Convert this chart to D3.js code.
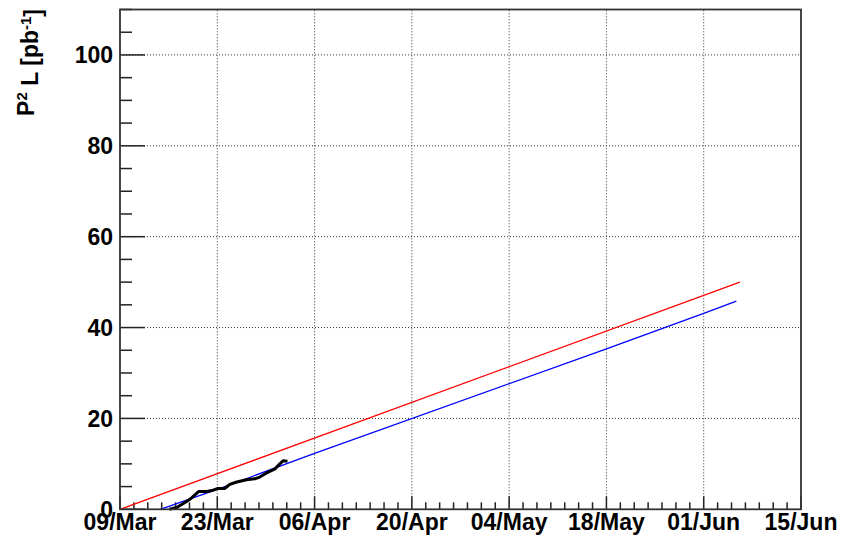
<!DOCTYPE html>
<html>
<head>
<meta charset="utf-8">
<script src="https://cdn.jsdelivr.net/npm/d3@7"></script>
<style>
  body { margin: 0; background: #fff; }
  svg { display: block; }
  text { font-family: "Liberation Sans", Arial, sans-serif; font-weight: bold; fill: #000; }
</style>
</head>
<body>
<div id="chart"><svg></svg></div>
<script>
// days counted from 09/Mar
var startDate = Date.UTC(2010, 2, 9);
var endDate = Date.UTC(2010, 5, 15);

// measured luminosity (black)
var measDays = [7.1, 8.15, 9.35, 10.3, 11.3, 12.5, 13.4, 14.1, 15.1, 15.8, 16.8, 18.2, 19.4, 20.1, 21.1, 22.3, 23.0, 23.5, 24.1];
var measLumi = [0, 0.4, 1.5, 2.5, 3.9, 3.9, 4.2, 4.6, 4.6, 5.5, 6.0, 6.5, 6.7, 7.1, 8.0, 8.9, 10.0, 10.7, 10.6];

// projection (red)
var redDays = [0, 89.2];
var redLumi = [0, 50];

// projection (blue)
var blueDays = [5.8, 14.4, 27.8, 70, 84, 88.7];
var blueLumi = [0, 4.6, 12.2, 35.3, 43.1, 45.8];

var yTicks = [0, 20, 40, 60, 80, 100];
var xTickLabels = ["09/Mar", "23/Mar", "06/Apr", "20/Apr", "04/May", "18/May", "01/Jun", "15/Jun"];

var width = 842, height = 538;
var padLeft = 120, padRight = 801, padTop = 9.5, padBottom = 509.3;

var svg = d3.select("#chart svg").attr("width", width).attr("height", height);

function toDate(d) { return new Date(startDate + d * 864e5); }

var x = d3.scaleUtc().domain([new Date(startDate), new Date(endDate)]).range([padLeft, padRight]);
var y = d3.scaleLinear().domain([0, 110]).range([padBottom, padTop]);

var majorDates = xTickLabels.map(function(d, i) { return toDate(i * 14); });
var minorDates = d3.range(0, 99, 2).map(toDate);
var minorY = d3.range(0, 111, 5);

// grid
var grid = svg.append("g")
    .attr("stroke", "#333")
    .attr("stroke-width", 1)
    .attr("stroke-dasharray", "1,2");
grid.selectAll(".gx")
    .data(majorDates.slice(1, -1))
    .enter().append("line")
        .attr("x1", d => x(d)).attr("x2", d => x(d))
        .attr("y1", padBottom).attr("y2", padTop);
grid.selectAll(".gy")
    .data(yTicks.slice(1))
    .enter().append("line")
        .attr("x1", padLeft).attr("x2", padRight)
        .attr("y1", d => y(d)).attr("y2", d => y(d));

// ticks
var ticks = svg.append("g").attr("stroke", "#222").attr("stroke-width", 1.5);
ticks.selectAll(".xt")
    .data(minorDates)
    .enter().append("line")
        .attr("x1", d => x(d)).attr("x2", d => x(d))
        .attr("y1", padBottom)
        .attr("y2", (d, i) => padBottom - (i % 7 == 0 ? 13 : 7));
ticks.selectAll(".yt")
    .data(minorY)
    .enter().append("line")
        .attr("y1", d => y(d)).attr("y2", d => y(d))
        .attr("x1", padLeft)
        .attr("x2", d => padLeft + (d % 20 == 0 ? 25 : 12));

// series
var line = d3.line()
    .x(d => x(toDate(d[0])))
    .y(d => y(d[1]));

svg.append("path")
    .datum(d3.zip(redDays, redLumi))
    .attr("d", line)
    .attr("fill", "none")
    .attr("stroke", "#ff0000")
    .attr("stroke-width", 1.3);

svg.append("path")
    .datum(d3.zip(blueDays, blueLumi))
    .attr("d", line)
    .attr("fill", "none")
    .attr("stroke", "#0000ff")
    .attr("stroke-width", 1.3);

svg.append("path")
    .datum(d3.zip(measDays, measLumi))
    .attr("d", line)
    .attr("fill", "none")
    .attr("stroke", "#000")
    .attr("stroke-width", 3)
    .attr("stroke-linejoin", "round");

// frame
svg.append("rect")
    .attr("x", padLeft).attr("y", padTop)
    .attr("width", padRight - padLeft).attr("height", padBottom - padTop)
    .attr("fill", "none")
    .attr("stroke", "#333")
    .attr("stroke-width", 1.8);

// labels
svg.selectAll(".xl")
    .data(xTickLabels)
    .enter().append("text")
        .attr("x", (d, i) => x(majorDates[i]))
        .attr("y", 530)
        .attr("text-anchor", "middle")
        .style("font-size", "23px")
        .text(d => d);

svg.selectAll(".yl")
    .data(yTicks)
    .enter().append("text")
        .attr("x", 113)
        .attr("y", d => y(d))
        .attr("dy", "0.36em")
        .attr("text-anchor", "end")
        .style("font-size", "23px")
        .text(d => d);

var title = svg.append("text")
    .attr("transform", "translate(34,9) rotate(-90)")
    .attr("text-anchor", "end")
    .style("font-size", "23px");
title.append("tspan").text("P");
title.append("tspan").attr("dy", "-0.45em").style("font-size", "15px").text("2");
title.append("tspan").attr("dy", "0.45em").text(" L [pb");
title.append("tspan").attr("dy", "-0.45em").style("font-size", "15px").text("-1");
title.append("tspan").attr("dy", "0.45em").text("]");
</script>
</body>
</html>
